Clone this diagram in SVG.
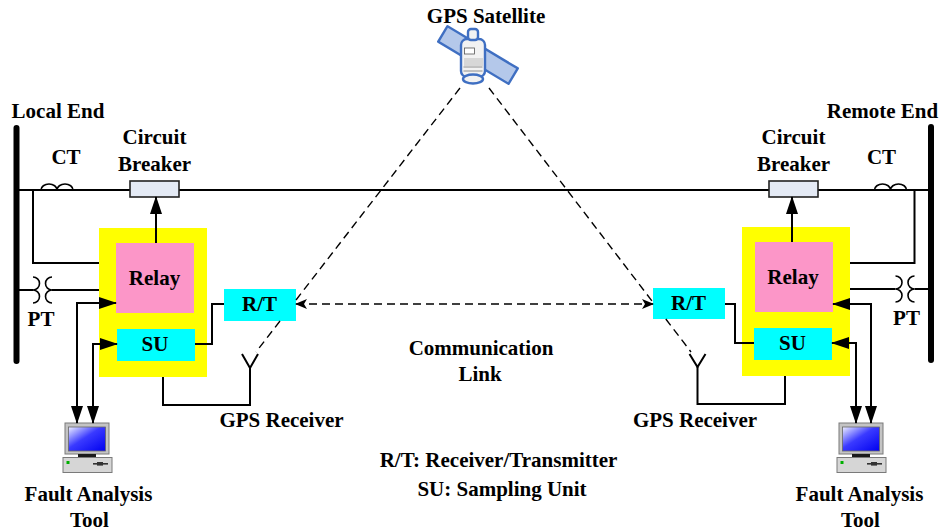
<svg xmlns="http://www.w3.org/2000/svg" xmlns:xlink="http://www.w3.org/1999/xlink" width="942" height="531" viewBox="0 0 942 531">
  <style>
    .t { font-family: "Liberation Serif", "Times New Roman", serif; font-weight: bold; font-size: 21px; text-anchor: middle; fill: #000; }
    .wire { fill: none; stroke: #000; stroke-width: 2; }
    .bus { fill: none; stroke: #000; stroke-width: 6; stroke-linecap: round; }
    .coil { fill: none; stroke: #000; stroke-width: 1.6; }
    .dash { fill: none; stroke: #000; stroke-width: 1.4; stroke-dasharray: 8 5; }
    .arrow { fill: none; stroke: #000; stroke-width: 2; marker-end: url(#head); }
    .arrow2 { fill: none; stroke: #000; stroke-width: 2; marker-start: url(#head); marker-end: url(#head); }
    .panel { fill: #ffff00; }
    .relay { fill: #fc96c8; }
    .unit { fill: #00ffff; }
    .cb { fill: #e4eaf5; stroke: #222; stroke-width: 1.6; }
    .sat { stroke: #3f6fc2; stroke-width: 2.4; stroke-linejoin: round; }
  </style>
  <defs>
    <marker id="head" markerUnits="userSpaceOnUse" markerWidth="18" markerHeight="12" refX="17" refY="6" orient="auto-start-reverse">
      <path d="M0,0 L18,6 L0,12 Z" fill="#000"/>
    </marker>
    <marker id="dhead" markerUnits="userSpaceOnUse" markerWidth="12" markerHeight="10" refX="11" refY="5" orient="auto-start-reverse">
      <path d="M0,0 L12,5 L0,10 L3,5 Z" fill="#000"/>
    </marker>
    <linearGradient id="screen" x1="0" y1="0" x2="1" y2="1">
      <stop offset="0" stop-color="#eef0ff"/>
      <stop offset="0.45" stop-color="#3a3aff"/>
      <stop offset="1" stop-color="#0000f0"/>
    </linearGradient>
    <g id="pc">
      <rect x="0" y="0" width="44" height="31" fill="#c4c4c4" stroke="#7a7a7a" stroke-width="1"/>
      <rect x="3.5" y="4" width="37" height="24" fill="url(#screen)" stroke="#666" stroke-width="0.8"/>
      <rect x="13" y="31" width="18" height="3.5" fill="#1a1a1a"/>
      <rect x="-2" y="34.5" width="49" height="15" fill="#d6d6d6" stroke="#7a7a7a" stroke-width="1"/>
      <rect x="1.5" y="38" width="3" height="3" fill="#00b000"/>
      <rect x="28" y="40" width="15" height="1.6" fill="#333"/>
      <rect x="32" y="39" width="6" height="3.6" fill="#333"/>
    </g>
  </defs>

  <rect width="942" height="531" fill="#fff"/>

  <!-- power line, buses and instrument transformers -->
  <g id="power-line">
    <path class="wire" d="M16.5,190 H931"/>
    <path class="bus" d="M16.5,128 V361"/>
    <path class="bus" d="M931,127 V360"/>
  </g>

  <g id="local-ct">
    <path class="coil" d="M41,190 A8,6 0 0 1 57,190 A8,6 0 0 1 73,190"/>
    <text class="t" x="66" y="164">CT</text>
  </g>
  <g id="remote-ct">
    <path class="coil" d="M874.5,190 A8,6 0 0 1 890.5,190 A8,6 0 0 1 906.5,190"/>
    <text class="t" x="881.5" y="164">CT</text>
  </g>

  <g id="local-pt">
    <path class="coil" d="M33,277 A6.5,6.5 0 0 1 33,290 A6.5,6.5 0 0 1 33,303"/>
    <path class="coil" d="M52,277 A6.5,6.5 0 0 0 52,290 A6.5,6.5 0 0 0 52,303"/>
    <text class="t" x="41" y="326">PT</text>
  </g>
  <g id="remote-pt">
    <path class="coil" d="M914.5,276 A6.5,6.5 0 0 0 914.5,289 A6.5,6.5 0 0 0 914.5,302"/>
    <path class="coil" d="M895.5,276 A6.5,6.5 0 0 1 895.5,289 A6.5,6.5 0 0 1 895.5,302"/>
    <text class="t" x="906.5" y="325">PT</text>
  </g>

  <g id="local-breaker">
    <rect class="cb" x="130" y="181" width="49" height="16"/>
    <text class="t" x="154.5" y="144">Circuit</text>
    <text class="t" x="154.5" y="171">Breaker</text>
  </g>
  <g id="remote-breaker">
    <rect class="cb" x="769" y="181" width="49" height="16"/>
    <text class="t" x="793.5" y="144">Circuit</text>
    <text class="t" x="793.5" y="171">Breaker</text>
  </g>

  <!-- protection panels -->
  <g id="local-panel">
    <rect class="panel" x="99" y="228" width="108" height="149"/>
  </g>
  <g id="local-relay">
    <rect class="relay" x="116" y="243" width="78" height="70"/>
    <text class="t" x="154.5" y="285">Relay</text>
  </g>
  <g id="local-su">
    <rect class="unit" x="117" y="329" width="78" height="32"/>
    <text class="t" x="155" y="351">SU</text>
  </g>
  <g id="remote-panel">
    <rect class="panel" x="742" y="227" width="108" height="149"/>
  </g>
  <g id="remote-relay">
    <rect class="relay" x="755" y="242" width="78" height="70"/>
    <text class="t" x="793" y="284">Relay</text>
  </g>
  <g id="remote-su">
    <rect class="unit" x="754" y="328" width="78" height="32"/>
    <text class="t" x="792.5" y="350">SU</text>
  </g>

  <g id="local-rt">
    <rect class="unit" x="224" y="289" width="72" height="32"/>
    <text class="t" x="259.5" y="311">R/T</text>
  </g>
  <g id="remote-rt">
    <rect class="unit" x="653" y="288" width="72" height="31"/>
    <text class="t" x="688.5" y="310">R/T</text>
  </g>

  <!-- GPS antennas -->
  <g id="local-gps-receiver">
    <path class="wire" d="M242,354 L250,368 L258,354"/>
    <text class="t" x="281.5" y="427">GPS Receiver</text>
  </g>
  <g id="remote-gps-receiver">
    <path class="wire" d="M689.5,354 L697.5,367 L705.5,354"/>
    <text class="t" x="695" y="427">GPS Receiver</text>
  </g>

  <!-- satellite -->
  <g id="gps-satellite">
    <rect class="sat" x="437" y="46" width="82" height="18" fill="#b4c8ea" transform="rotate(31 478 55)"/>
    <rect class="sat" x="461" y="39" width="24" height="38" rx="6" fill="#f2f2f2"/>
    <rect class="sat" x="468" y="29" width="10" height="11" rx="3" fill="#f2f2f2" stroke-width="2"/>
    <ellipse class="sat" cx="473" cy="79" rx="10" ry="4.5" fill="#f2f2f2" stroke-width="2"/>
    <rect x="464.5" y="48" width="10" height="6" fill="#fff" stroke="#555" stroke-width="0.8"/>
    <rect x="464" y="58" width="19" height="8" fill="#cfcfcf" opacity="0.8"/>
    <path d="M463.5,67 H482.5 M463.5,71 H482.5" stroke="#777" stroke-width="0.8"/>
    <text class="t" x="486" y="23">GPS Satellite</text>
  </g>

  <!-- fault analysis computers -->
  <g id="local-fault-analysis">
    <use href="#pc" xlink:href="#pc" transform="translate(65,423)"/>
    <text class="t" x="88.5" y="501">Fault Analysis</text>
    <text class="t" x="89.5" y="527">Tool</text>
  </g>
  <g id="remote-fault-analysis">
    <use href="#pc" xlink:href="#pc" transform="translate(839,423)"/>
    <text class="t" x="859.5" y="501">Fault Analysis</text>
    <text class="t" x="860.5" y="527">Tool</text>
  </g>

  <g id="labels">
    <text class="t" x="58" y="118">Local End</text>
    <text class="t" x="882.5" y="118">Remote End</text>
    <text class="t" x="481" y="355">Communication</text>
    <text class="t" x="480" y="381">Link</text>
    <text class="t" x="498.5" y="467">R/T: Receiver/Transmitter</text>
    <text class="t" x="502" y="496">SU: Sampling Unit</text>
  </g>

  <!-- connectors -->
  <g id="connectors">
    <path class="wire" d="M33,190 V263 H99"/>
    <path class="wire" d="M16.5,290 H33 M52,290 H99"/>
    <path class="wire" d="M914.5,190 V263 H850"/>
    <path class="wire" d="M931,289 H914.5 M895.5,289 H850"/>

    <path class="arrow" d="M156,243 V197"/>
    <path class="arrow" d="M792,242 V197"/>

    <path class="arrow2" d="M77,423 V303 H116"/>
    <path class="arrow2" d="M93,423 V344 H117"/>
    <path class="arrow2" d="M871,423 V304 H833"/>
    <path class="arrow2" d="M856,423 V343 H832"/>

    <path class="wire" d="M195,344 H212 V304 H224"/>
    <path class="wire" d="M725,304 H735 V343 H754"/>

    <path class="wire" d="M163,377 V405 H250 V368"/>
    <path class="wire" d="M785,376 V404 H697.5 V367"/>

    <path class="dash" d="M460,88 L296,300 M280,321 L256,352"/>
    <path class="dash" d="M489,88 L653,302.3 M665.8,319 L691,352"/>
    <path class="dash" d="M296,304 H653" marker-start="url(#dhead)" marker-end="url(#dhead)"/>
  </g>
</svg>
